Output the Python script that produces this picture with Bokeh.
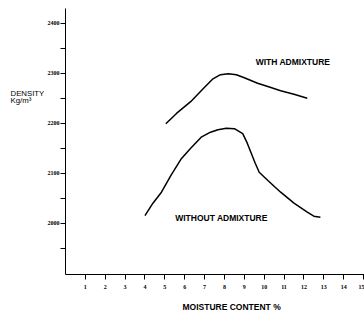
from bokeh.plotting import figure
from bokeh.layouts import row
from bokeh.models import Range1d, FixedTicker, Label, Title
from bokeh.core.properties import value
from bokeh.embed import file_html
from bokeh.resources import INLINE

# Data
with_x = [5.05, 5.6, 6.3, 7.0, 7.4, 7.8, 8.2, 8.6, 9.0, 9.67, 10.3, 10.83, 11.5, 12.17]
with_y = [2199, 2220, 2243, 2272, 2288, 2297, 2299, 2297, 2291, 2280, 2272, 2265, 2258, 2250]

without_x = [4.0, 4.4, 4.83, 5.3, 5.83, 6.3, 6.83, 7.3, 7.67, 8.1, 8.5, 8.92, 9.15, 9.33,
             9.55, 9.75, 10.2, 10.83, 11.5, 12.17, 12.5, 12.83]
without_y = [2015, 2040, 2062, 2095, 2129, 2150, 2172, 2182, 2187, 2190, 2189, 2179, 2160, 2142,
             2120, 2102, 2085, 2062, 2040, 2022, 2014, 2012]

x_ticks = list(range(1, 16))
y_major = [2000, 2100, 2200, 2300, 2400]
y_minor = [1950, 2050, 2150, 2250, 2350]
y_title_lines = ["DENSITY", "Kg/m\u00b3"]

# Left strip holding the horizontal y-axis title
left = figure(width=44, height=320, output_backend="svg", toolbar_location=None,
              x_range=Range1d(0, 44), y_range=Range1d(320, 0),
              x_axis_location=None, y_axis_location=None,
              min_border_left=0, min_border_right=0, min_border_top=0, min_border_bottom=0)
left.outline_line_color = None
left.grid.visible = False
left.text(x=[10, 10], y=[102, 111], text=y_title_lines, text_font=value("Liberation Sans"),
          text_font_size="7.8px", text_baseline="middle", text_align="left", text_color="black")

p = figure(width=320, height=320, output_backend="svg", toolbar_location=None,
           x_range=Range1d(0, 15.05), y_range=Range1d(1897.4, 2429.4),
           min_border_left=19, min_border_right=0, min_border_top=8, min_border_bottom=46)
p.outline_line_color = None
p.grid.visible = False

p.xaxis.ticker = FixedTicker(ticks=x_ticks)
p.yaxis.ticker = FixedTicker(ticks=y_major, minor_ticks=y_minor)
for ax in (p.xaxis[0], p.yaxis[0]):
    ax.axis_line_color = "black"
    ax.axis_line_width = 1
    ax.major_tick_line_color = "black"
    ax.major_tick_in = 0
    ax.major_tick_out = 5
    ax.major_label_text_font = "Liberation Serif"
    ax.major_label_text_font_style = "bold"
    ax.major_label_text_color = "black"
    ax.major_label_text_font_size = "6px"
p.xaxis.minor_tick_line_color = None
p.yaxis.minor_tick_line_color = "black"
p.yaxis.minor_tick_in = 0
p.yaxis.minor_tick_out = 5
p.xaxis.major_label_standoff = 5
p.yaxis.major_label_standoff = 1

p.line(with_x, with_y, line_color="black", line_width=1.5)
p.line(without_x, without_y, line_color="black", line_width=1.5)

def lab(x, y, t, size="8.5px"):
    p.add_layout(Label(x=x, y=y, text=t, text_font="Liberation Sans", text_font_size=size,
                       text_font_style="bold", text_align="center", text_baseline="middle",
                       text_color="black"))

lab(11.45, 2323, "WITH ADMIXTURE")
lab(7.85, 2011, "WITHOUT ADMIXTURE")

# x-axis title
p.add_layout(Title(text="MOISTURE CONTENT %", align="left", offset=117, standoff=17,
                   text_font="Liberation Sans", text_font_size="8.5px", text_font_style="bold",
                   text_color="black"), "below")

open("out.html", "w").write(file_html(row(left, p, spacing=0), INLINE))
